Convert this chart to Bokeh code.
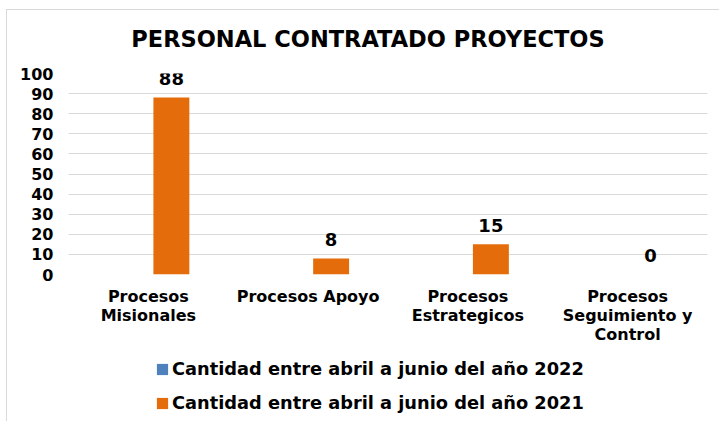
from bokeh.plotting import figure
from bokeh.layouts import column
from bokeh.models import (ColumnDataSource, FixedTicker, Legend, LegendItem, Range1d,
                          FactorRange, Label)
from bokeh.transform import dodge
from bokeh.core.properties import value
from bokeh.embed import file_html
from bokeh.resources import INLINE

categories = ["Procesos\nMisionales", "Procesos Apoyo", "Procesos\nEstrategicos",
              "Procesos\nSeguimiento y\nControl"]
values_2022 = [0, 0, 0, 0]
values_2021 = [88, 8, 15, 0]
y_ticks = [0, 10, 20, 30, 40, 50, 60, 70, 80, 90, 100]
series_names = ["Cantidad entre abril a junio del año 2022",
                "Cantidad entre abril a junio del año 2021"]
title_text = "PERSONAL CONTRATADO PROYECTOS"

FONT = "DejaVu Sans"
C2022 = "#4F81BD"
C2021 = "#E46C0A"
GRID = "#D9D9D9"

src = ColumnDataSource(dict(cat=categories, v2022=values_2022, v2021=values_2021,
                            lbl=[str(v) for v in values_2021]))

# title strip
p0 = figure(width=712, height=56, output_backend="svg", toolbar_location=None,
            x_range=Range1d(0, 1), y_range=Range1d(0, 1),
            min_border_left=61, min_border_right=12, min_border_top=0, min_border_bottom=0)
p0.axis.visible = False
p0.grid.visible = False
p0.outline_line_color = None
p0.border_fill_color = "white"
p0.add_layout(Label(x=0.5, y=0.5, x_offset=-20, text=title_text,
                    text_align="center", text_baseline="middle",
                    text_font=FONT, text_font_style="bold", text_font_size="22.5px",
                    text_color="black"))

p = figure(x_range=FactorRange(*categories), y_range=Range1d(0, 100),
           width=712, height=289, output_backend="svg", toolbar_location=None,
           min_border_left=61, min_border_right=12, min_border_top=7, min_border_bottom=81)
p.outline_line_color = None
p.background_fill_color = "white"
p.border_fill_color = "white"

r22 = p.vbar(x=dodge("cat", -0.081, range=p.x_range), top="v2022", width=0.225,
             source=src, fill_color=C2022, line_color=None)
r21 = p.vbar(x=dodge("cat", 0.144, range=p.x_range), top="v2021", width=0.225,
             source=src, fill_color=C2021, line_color=None)

p.text(x=dodge("cat", 0.144, range=p.x_range), y="v2021", text="lbl", source=src,
       text_align="center", text_baseline="middle", y_offset=-19,
       text_font=value(FONT), text_font_style="bold", text_font_size="18px", text_color="black")

p.yaxis.ticker = FixedTicker(ticks=y_ticks)
p.yaxis.axis_line_color = None
p.yaxis.major_tick_line_color = None
p.yaxis.minor_tick_line_color = None
p.yaxis.major_tick_out = 0
p.yaxis.major_tick_in = 0
p.yaxis.major_label_standoff = 15
p.yaxis.major_label_text_font = FONT
p.yaxis.major_label_text_font_style = "bold"
p.yaxis.major_label_text_font_size = "16px"
p.yaxis.major_label_text_color = "black"

p.xaxis.axis_line_color = None
p.xaxis.major_tick_line_color = None
p.xaxis.minor_tick_line_color = None
p.xaxis.major_tick_out = 0
p.xaxis.major_tick_in = 0
p.xaxis.major_label_standoff = 12
p.xaxis.major_label_text_font = FONT
p.xaxis.major_label_text_font_style = "bold"
p.xaxis.major_label_text_font_size = "16px"
p.xaxis.major_label_text_line_height = 1.02
p.xaxis.major_label_text_color = "black"

p.xgrid.grid_line_color = None
p.ygrid.grid_line_color = GRID
p.ygrid.grid_line_width = 1

# legend strip below the chart (same data, bars kept outside its visible y range)
p2 = figure(width=712, height=66, output_backend="svg", toolbar_location=None,
            x_range=FactorRange(*categories), y_range=Range1d(200, 300),
            min_border_left=61, min_border_right=12, min_border_top=0, min_border_bottom=0)
p2.axis.visible = False
p2.grid.visible = False
p2.outline_line_color = None
p2.border_fill_color = "white"
l22 = p2.vbar(x="cat", top="v2022", width=0.225, source=src, fill_color=C2022, line_color=None)
l21 = p2.vbar(x="cat", top="v2021", width=0.225, source=src, fill_color=C2021, line_color=None)

legend = Legend(items=[LegendItem(label=series_names[0], renderers=[l22]),
                       LegendItem(label=series_names[1], renderers=[l21])],
                location=(87, 8), orientation="vertical",
                glyph_width=14, glyph_height=14, label_standoff=3, label_height=20,
                spacing=13, padding=0, margin=0,
                border_line_color=None, background_fill_alpha=0,
                label_text_font=FONT, label_text_font_style="bold",
                label_text_font_size="17.8px", label_text_color="black")
p2.add_layout(legend, "center")

layout = column(p0, p, p2, spacing=0)
layout.styles = {"margin-left": "6px", "margin-top": "9px",
                 "border-top": "1px solid #D9D9D9", "border-left": "1px solid #D9D9D9"}

open("out.html", "w").write(file_html(layout, INLINE))
